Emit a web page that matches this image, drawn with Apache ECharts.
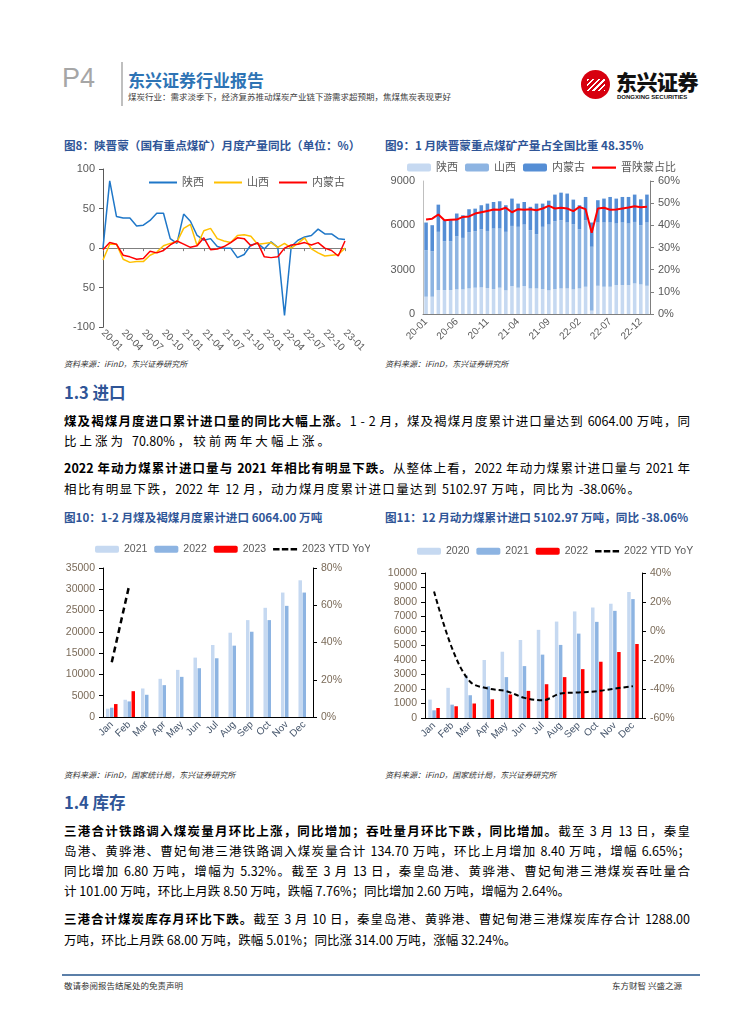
<!DOCTYPE html>
<html><head><meta charset="utf-8">
<script src="https://cdn.jsdelivr.net/npm/echarts/dist/echarts.min.js"></script>
<style>
body{margin:0;width:755px;height:1024px;background:#fff;position:relative;font-family:"Noto Sans CJK SC","Noto Sans",sans-serif;overflow:hidden}
.a{position:absolute;white-space:nowrap}
.ln{position:absolute;left:64px;width:626px;height:20px;line-height:20px;font-size:12.5px;color:#000;white-space:nowrap;text-align:justify;text-align-last:justify}
.ft{font-size:11.6px;font-weight:bold;color:#2F5597}
.src{font-size:8px;font-style:italic;color:#333}
.h{font-size:16.5px;font-weight:bold;color:#2F5597}
.ch{position:absolute}
b{font-weight:bold}
</style></head>
<body>
<!-- header -->
<div class="a" style="left:62px;top:63px;font-size:27px;color:#a6a6a6;font-family:'Liberation Sans',sans-serif;font-weight:300">P4</div>
<div class="a" style="left:121px;top:62px;width:2px;height:44px;background:#bfbfbf"></div>
<div class="a" style="left:128px;top:67px;font-size:17px;font-weight:bold;color:#2E74B5">东兴证券行业报告</div>
<div class="a" style="left:128px;top:90px;font-size:8.5px;color:#404040">煤炭行业：需求淡季下，经济复苏推动煤炭产业链下游需求超预期，焦煤焦炭表现更好</div>
<div class="a" style="left:581px;top:70px;width:29px;height:29px;border-radius:50%;background:#D7000F;overflow:hidden">
  <div style="position:absolute;left:6px;top:9px;width:18px;height:12px;background:repeating-linear-gradient(135deg,#fff 0 1.5px,transparent 1.5px 4px)"></div>
</div>
<div class="a" style="left:616px;top:70px;height:22px;line-height:22px;font-size:21px;font-weight:900;color:#111;letter-spacing:-0.5px">东兴证券</div>
<div class="a" style="left:617px;top:94px;line-height:7px;font-size:6px;font-weight:bold;color:#111;font-family:'Liberation Sans',sans-serif">DONGXING SECURITIES</div>

<!-- figure titles -->
<div class="a ft" style="left:64px;top:137px">图8：陕晋蒙（国有重点煤矿）月度产量同比（单位：%）</div>
<div class="a ft" style="left:385px;top:137px">图9：1 月陕晋蒙重点煤矿产量占全国比重 48.35%</div>

<div id="c8" class="ch" style="left:60px;top:155px;width:310px;height:200px"></div>
<div id="c9" class="ch" style="left:380px;top:155px;width:320px;height:200px"></div>

<div class="a src" style="left:64px;top:358px">资料来源：iFinD，东兴证券研究所</div>
<div class="a src" style="left:385px;top:358px">资料来源：iFinD，东兴证券研究所</div>

<div class="a h" style="left:64px;top:380px">1.3 进口</div>
<div class="ln" style="top:411px"><b>煤及褐煤月度进口累计进口量的同比大幅上涨。</b>1 - 2 月，煤及褐煤月度累计进口量达到 6064.00 万吨，同</div>
<div class="ln" style="top:431px;width:266px">比上涨为 70.80%，较前两年大幅上涨。</div>
<div class="ln" style="top:458px"><b>2022 年动力煤累计进口量与 2021 年相比有明显下跌。</b>从整体上看，2022 年动力煤累计进口量与 2021 年</div>
<div class="ln" style="top:479px;width:576px">相比有明显下跌，2022 年 12 月，动力煤月度累计进口量达到 5102.97 万吨，同比为 -38.06%。</div>

<div class="a ft" style="left:64px;top:509px">图10：1-2 月煤及褐煤月度累计进口 6064.00 万吨</div>
<div class="a ft" style="left:385px;top:509px">图11：12 月动力煤累计进口 5102.97 万吨，同比 -38.06%</div>

<div id="c10" class="ch" style="left:60px;top:525px;width:310px;height:240px"></div>
<div id="c11" class="ch" style="left:380px;top:525px;width:320px;height:240px"></div>

<div class="a src" style="left:64px;top:769px">资料来源：iFinD，国家统计局，东兴证券研究所</div>
<div class="a src" style="left:385px;top:769px">资料来源：iFinD，国家统计局，东兴证券研究所</div>

<div class="a h" style="left:64px;top:790px">1.4 库存</div>
<div class="ln" style="top:821px"><b>三港合计铁路调入煤炭量月环比上涨，同比增加；吞吐量月环比下跌，同比增加。</b>截至 3 月 13 日，秦皇</div>
<div class="ln" style="top:841px">岛港、黄骅港、曹妃甸港三港铁路调入煤炭量合计 134.70 万吨，环比上月增加 8.40 万吨，增幅 6.65%；</div>
<div class="ln" style="top:861px">同比增加 6.80 万吨，增幅为 5.32%。截至 3 月 13 日，秦皇岛港、黄骅港、曹妃甸港三港煤炭吞吐量合</div>
<div class="ln" style="top:881px;width:506px">计 101.00 万吨，环比上月跌 8.50 万吨，跌幅 7.76%；同比增加 2.60 万吨，增幅为 2.64%。</div>
<div class="ln" style="top:909px"><b>三港合计煤炭库存月环比下跌。</b>截至 3 月 10 日，秦皇岛港、黄骅港、曹妃甸港三港煤炭库存合计 1288.00</div>
<div class="ln" style="top:930px;width:436px">万吨，环比上月跌 68.00 万吨，跌幅 5.01%；同比涨 314.00 万吨，涨幅 32.24%。</div>

<div class="a" style="left:62px;top:974px;width:638px;height:2px;background:#5B7FA8"></div>
<div class="a" style="left:64px;top:979px;font-size:8.5px;color:#333">敬请参阅报告结尾处的免责声明</div>
<div class="a" style="left:612px;top:979px;font-size:8.5px;color:#333">东方财智 兴盛之源</div>

<script>
// ---------- Figure 8 data ----------
const fig8Months = ['20-01','20-02','20-03','20-04','20-05','20-06','20-07','20-08','20-09','20-10','20-11','20-12',
  '21-01','21-02','21-03','21-04','21-05','21-06','21-07','21-08','21-09','21-10','21-11','21-12',
  '22-01','22-02','22-03','22-04','22-05','22-06','22-07','22-08','22-09','22-10','22-11','22-12','23-01'];
const shaanxiYoY = [0,85,40,38,38,28,29,35,44,44,12,6,43,34,16,10,12,2,0,0,-12,-8,4,6,-1,8,1,-85,2,10,14,16,24,18,18,12,11];
const shanxiYoY  = [-15,5,5,-14,-18,-17,-17,-9,-5,3,6,8,25,30,3,22,25,12,9,7,16,17,15,5,6,7,1,6,0,6,13,-1,-6,-10,-9,-8,0];
const neimengYoY = [-2,7,5,-9,-11,-14,-13,-4,-6,-3,4,9,5,1,3,13,-2,-1,2,7,13,12,3,7,-11,-12,-11,0,4,5,7,4,7,0,-3,-10,9];
const fig8Names = ['陕西','山西','内蒙古'];
const fig8YTicks = {'100':'100','50':'50','0':'0','-50':'50','-100':'-100'};

// ---------- Figure 9 data ----------
const fig9Months = fig8Months;
const fig9Shaanxi = [1170,1170,1620,1620,1620,1665,1665,1730,1780,1800,1755,1690,1780,1600,1890,1780,1890,1730,1730,1690,1600,1690,1730,1730,1665,1730,1845,225,1910,1845,1845,1960,1960,1960,2070,2000,1910];
const fig9Shanxi  = [3150,3080,3940,3310,3310,3605,3485,3810,3820,3940,3865,4090,4000,3960,4070,4120,4160,3940,3670,4210,4450,4590,4610,4460,4415,4010,4495,4325,4280,4345,4345,4160,4230,4160,4160,4010,4280];
const fig9Neimeng = [1870,1760,1840,1420,1420,1530,1530,1550,1530,1620,1850,1800,1850,1800,1850,1570,1530,1580,2070,1570,1620,1800,1870,1960,1660,1620,1580,1640,1510,1620,1730,1690,1730,1800,1850,1750,1890];
const fig9Share   = [42.6,43,44.9,42.3,42.5,42.6,43.8,44,45.3,45.9,46.5,47.1,47,47.9,45.9,47.3,47,47.3,46.8,47.6,48.8,47.6,47.9,47.6,46.4,48.3,47.3,36.6,47.6,47.9,47,47.1,47.6,48,48.6,48.2,48.35];
const fig9Names = ['陕西','山西','内蒙古','晋陕蒙占比'];

// ---------- Figure 10 data ----------
const months12 = ['Jan','Feb','Mar','Apr','May','Jun','Jul','Aug','Sep','Oct','Nov','Dec'];
const imp2021 = [1950,4050,6700,8970,11070,13950,16920,19800,22760,25650,29230,32110];
const imp2022 = [2180,3660,5220,7480,9430,11460,13800,16760,20030,22760,26110,29230];
const imp2023 = [3040,6064];
const imp2023YoY = [29.4,70.8];
const fig10Names = ['2021','2022','2023','2023 YTD YoY'];

// ---------- Figure 11 data ----------
const th2020 = [1270,2080,2960,4000,4570,5380,6080,6650,7350,7620,7880,8690];
const th2021 = [530,920,1570,2190,2820,3580,4370,5040,5820,6630,7390,8200];
const th2022 = [690,810,1000,1290,1620,1870,2330,2820,3370,3880,4550,5103];
const th2022YoY = [27.3,-12,-35,-39.7,-41.5,-46.1,-47.8,-43.1,-42.4,-41.5,-39.7,-38.06];
const fig11Names = ['2020','2021','2022','2022 YTD YoY'];

const FONT = "'Liberation Sans','Noto Sans CJK SC',sans-serif";
const LC = '#595959';
const C_LIGHT = '#C6D9F1', C_MID = '#8DB4E2', C_DARK = '#558ED5';
const plain = v => String(v);
const pct = v => v + '%';
// legend icons (line / dashed line), bounding box kept by tiny corner dots
const LINE_ICON_28x2 = 'path://M0,0h28v2h-28z';
const LINE_ICON_24x8 = 'path://M0,0h0.01v0.01h-0.01zM0,3h24v2.2h-24zM23.99,7.99h0.01v0.01h-0.01z';
const DASH_ICON_26x7 = 'path://M0,0h0.01v0.01h-0.01zM0,2.2h7v2.6h-7zM9.5,2.2h7v2.6h-7zM19,2.2h7v2.6h-7zM25.99,6.99h0.01v0.01h-0.01z';

// Fig 8
echarts.init(document.getElementById('c8')).setOption({
  animation:false,
  textStyle:{fontFamily:FONT},
  grid:{left:43,top:14,width:242,height:169},
  legend:{top:17,left:84,itemWidth:28,itemHeight:2,itemGap:10,textStyle:{fontSize:11,color:LC},
    data:fig8Names.map(n=>({name:n,icon:LINE_ICON_28x2}))},
  xAxis:{type:'category',data:fig8Months,boundaryGap:false,
    axisLine:{lineStyle:{color:'#7f7f7f'}},
    axisTick:{interval:2,length:3,lineStyle:{color:'#7f7f7f'}},
    axisLabel:{interval:2,rotate:-45,fontSize:10,color:LC,margin:4}},
  yAxis:{type:'value',min:-100,max:100,interval:50,
    axisLine:{show:true,lineStyle:{color:'#595959'}},axisTick:{show:true,length:4},
    splitLine:{show:false},axisLabel:{fontSize:11,color:LC,formatter:v=>fig8YTicks[String(v)]}},
  series:[
    {name:fig8Names[0],type:'line',symbol:'none',data:shaanxiYoY,lineStyle:{color:'#1F77C8',width:1.5},itemStyle:{color:'#1F77C8'}},
    {name:fig8Names[1],type:'line',symbol:'none',data:shanxiYoY,lineStyle:{color:'#FFC000',width:1.5},itemStyle:{color:'#FFC000'}},
    {name:fig8Names[2],type:'line',symbol:'none',data:neimengYoY,lineStyle:{color:'#FF0000',width:1.5},itemStyle:{color:'#FF0000'}}
  ]
});

// Fig 9
echarts.init(document.getElementById('c9')).setOption({
  animation:false,
  textStyle:{fontFamily:FONT},
  grid:{left:43,top:26,width:227,height:133},
  legend:{top:2,left:22,width:300,itemWidth:24,itemHeight:8,itemGap:7,textStyle:{fontSize:11,color:LC},
    data:[{name:fig9Names[0]},{name:fig9Names[1]},{name:fig9Names[2]},{name:fig9Names[3],icon:LINE_ICON_24x8}]},
  xAxis:{type:'category',data:fig9Months,
    axisLine:{lineStyle:{color:'#7f7f7f'}},
    axisTick:{interval:4,length:4,lineStyle:{color:'#7f7f7f'}},
    axisLabel:{interval:4,rotate:45,fontSize:10,color:LC,margin:6}},
  yAxis:[
    {type:'value',min:0,max:9000,interval:3000,axisLine:{show:true,lineStyle:{color:'#bfbfbf'}},axisTick:{show:false},
      splitLine:{show:false},axisLabel:{fontSize:11,color:LC,formatter:plain}},
    {type:'value',min:0,max:60,interval:10,position:'right',axisLine:{show:true,lineStyle:{color:'#7f7f7f'}},
      axisTick:{show:true,length:4},splitLine:{show:false},axisLabel:{fontSize:11,color:LC,formatter:pct}}
  ],
  series:[
    {name:fig9Names[0],type:'bar',stack:'s',barWidth:'58%',data:fig9Shaanxi,itemStyle:{color:C_LIGHT}},
    {name:fig9Names[1],type:'bar',stack:'s',data:fig9Shanxi,itemStyle:{color:C_MID}},
    {name:fig9Names[2],type:'bar',stack:'s',data:fig9Neimeng,itemStyle:{color:C_DARK}},
    {name:fig9Names[3],type:'line',yAxisIndex:1,symbol:'none',data:fig9Share,lineStyle:{color:'#FF0000',width:2},itemStyle:{color:'#FF0000'}}
  ]
});

// Fig 10
echarts.init(document.getElementById('c10')).setOption({
  animation:false,
  textStyle:{fontFamily:FONT},
  grid:{left:43,top:43,width:210,height:149},
  legend:{top:14,left:30,width:300,itemWidth:24,itemHeight:7,itemGap:7,textStyle:{fontSize:10.5,color:LC},
    data:[{name:fig10Names[0]},{name:fig10Names[1]},{name:fig10Names[2]},{name:fig10Names[3],icon:DASH_ICON_26x7,itemStyle:{color:'#000'}}]},
  xAxis:{type:'category',data:months12,
    axisLine:{lineStyle:{color:'#000'}},axisTick:{length:4,lineStyle:{color:'#000'}},
    axisLabel:{interval:0,rotate:45,fontSize:10,color:'#44546A',margin:6}},
  yAxis:[
    {type:'value',min:0,max:35000,interval:5000,axisLine:{show:true,lineStyle:{color:'#000'}},axisTick:{show:true,length:4},
      splitLine:{show:false},axisLabel:{fontSize:10.5,color:'#7a6a58',formatter:plain}},
    {type:'value',min:0,max:80,interval:20,position:'right',axisLine:{show:true,lineStyle:{color:'#000'}},
      axisTick:{show:true,length:4},splitLine:{show:false},axisLabel:{fontSize:10.5,color:'#7a6a58',formatter:pct}}
  ],
  series:[
    {name:fig10Names[0],type:'bar',barWidth:3.5,barGap:'15%',data:imp2021,itemStyle:{color:C_LIGHT}},
    {name:fig10Names[1],type:'bar',barWidth:3.5,barGap:'15%',data:imp2022,itemStyle:{color:C_MID}},
    {name:fig10Names[2],type:'bar',barWidth:3.5,barGap:'15%',data:imp2023,itemStyle:{color:'#FF0000'}},
    {name:fig10Names[3],type:'line',yAxisIndex:1,symbol:'none',data:imp2023YoY,lineStyle:{color:'#000',width:2.5,type:[6,4]},itemStyle:{color:'#000'}}
  ]
});

// Fig 11
echarts.init(document.getElementById('c11')).setOption({
  animation:false,
  textStyle:{fontFamily:FONT},
  grid:{left:45,top:48,width:217,height:145},
  legend:{top:16,left:32,width:300,itemWidth:24,itemHeight:7,itemGap:7,textStyle:{fontSize:10.5,color:LC},
    data:[{name:fig11Names[0]},{name:fig11Names[1]},{name:fig11Names[2]},{name:fig11Names[3],icon:DASH_ICON_26x7,itemStyle:{color:'#000'}}]},
  xAxis:{type:'category',data:months12,
    axisLine:{lineStyle:{color:'#000'}},axisTick:{length:4,lineStyle:{color:'#000'}},
    axisLabel:{interval:0,rotate:45,fontSize:10,color:'#44546A',margin:6}},
  yAxis:[
    {type:'value',min:0,max:10000,interval:1000,axisLine:{show:true,lineStyle:{color:'#000'}},axisTick:{show:true,length:4},
      splitLine:{show:false},axisLabel:{fontSize:10.5,color:'#7a6a58',formatter:plain}},
    {type:'value',min:-60,max:40,interval:20,position:'right',axisLine:{show:true,lineStyle:{color:'#000'}},
      axisTick:{show:true,length:4},splitLine:{show:false},axisLabel:{fontSize:10.5,color:'#7a6a58',formatter:pct}}
  ],
  series:[
    {name:fig11Names[0],type:'bar',barWidth:3.5,barGap:'15%',data:th2020,itemStyle:{color:C_LIGHT}},
    {name:fig11Names[1],type:'bar',barWidth:3.5,barGap:'15%',data:th2021,itemStyle:{color:C_MID}},
    {name:fig11Names[2],type:'bar',barWidth:3.5,barGap:'15%',data:th2022,itemStyle:{color:'#FF0000'}},
    {name:fig11Names[3],type:'line',yAxisIndex:1,symbol:'none',smooth:0.35,data:th2022YoY,lineStyle:{color:'#000',width:2,type:[5,3]},itemStyle:{color:'#000'}}
  ]
});
</script>
</body></html>
